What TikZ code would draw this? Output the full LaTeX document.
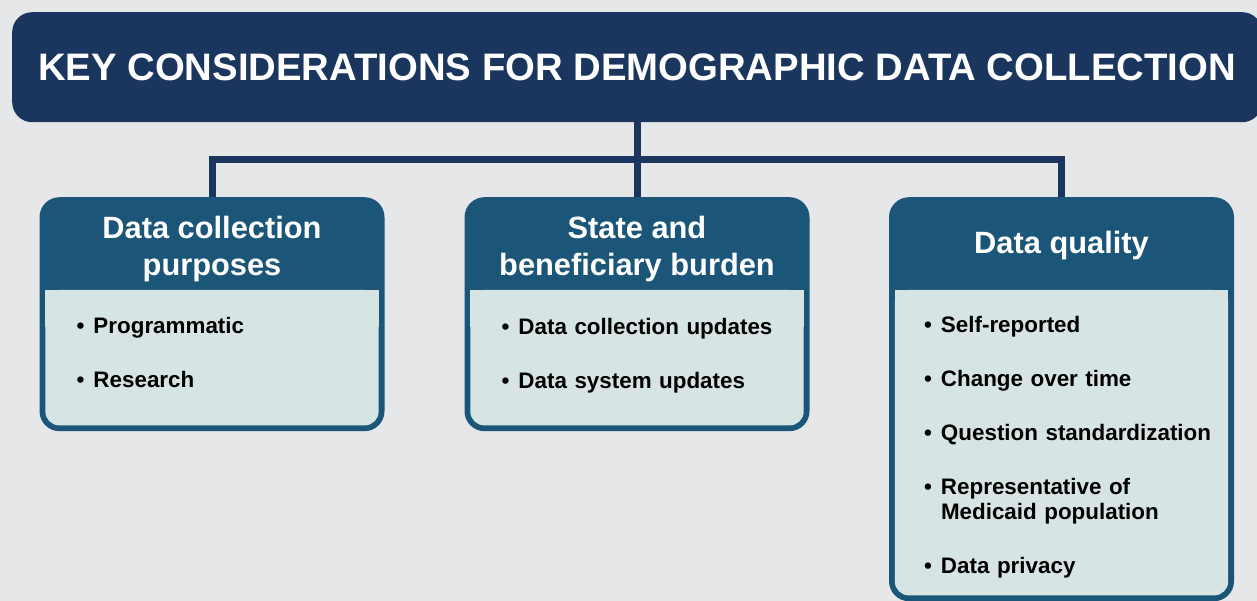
\documentclass[tikz,border=0pt]{standalone}
\usepackage{fontspec}
\setmainfont{Liberation Sans}
\usetikzlibrary{positioning,calc}

\definecolor{navy}{RGB}{27,54,94}
\definecolor{teal}{RGB}{27,86,120}
\definecolor{mist}{RGB}{214,229,227}
\definecolor{paper}{RGB}{230,231,233}

% one bullet line with a hanging indent
\newcommand{\bul}[1]{\par\noindent\hangindent=17pt\hangafter=1\makebox[17pt][l]{\textbullet}#1}

\begin{document}
\begin{tikzpicture}[x=1pt,y=-1pt,
    title/.style={fill=navy, rounded corners=20pt, minimum width=1250pt, minimum height=110pt},
    card/.style={fill=teal, rounded corners=20pt, minimum width=345pt, anchor=north},
    head/.style={text=white, align=center, font=\fontsize{30.8}{37}\selectfont\bfseries},
    body/.style={fill=mist, rounded corners=14pt},
    list/.style={anchor=north west, text width=290pt, inner sep=0pt, align=left,
                 font=\fontsize{22.4}{25}\selectfont\bfseries\setlength{\parskip}{29pt}},
    link/.style={draw=navy, line width=7pt},
  ]
  \fill[paper] (0,0) rectangle (1257,601);
  \useasboundingbox (0,0) rectangle (1257,601);

  % header banner
  \node[title, anchor=north west] (title) at (12,12) {};
  \node[text=white, font=\fontsize{38.3}{44}\selectfont\bfseries] (titletext) at (637,67)
    {KEY CONSIDERATIONS FOR DEMOGRAPHIC DATA COLLECTION};

  % the three cards
  \node[card, minimum height=234pt] (purposes) at (212,197) {};
  \node[card, minimum height=234pt] (burden) at (637,197) {};
  \node[card, minimum height=404pt] (quality) at (1061.5,197) {};

  \foreach \c in {purposes,burden,quality} {
    \fill[body] ($(\c.north west)+(6,93)$) rectangle ($(\c.south east)+(-6,-6)$);
    \fill[mist] ($(\c.north west)+(6,93)$) rectangle ($(\c.north east)+(-6,130)$);
  }

  \node[head] (purposeshead) at ($(purposes.north)+(0,52)$) {Data collection\\purposes};
  \node[head] (burdenhead) at ($(burden.north)+(0,52)$) {State and\\beneficiary burden};
  \node[head] (qualityhead) at ($(quality.north)+(0,49)$) {Data quality};

  \node[list] (purposeslist) at ($(purposes.north west)+(37,111)$)
    {\vspace*{-\parskip}\bul{Programmatic}\bul{Research}};
  \node[list] (burdenlist) at ($(burden.north west)+(37,112)$)
    {\vspace*{-\parskip}\bul{Data collection updates}\bul{Data system updates}};
  \node[list] (qualitylist) at ($(quality.north west)+(35,110)$)
    {\vspace*{-\parskip}\bul{Self-reported}\bul{Change over time}\bul{Question standardization}%
     \bul{Representative of\newline Medicaid population}\bul{Data privacy}};

  % connectors
  \coordinate (bus) at (637,159.5);
  \draw[link] (title.south -| burden.north) -- (burden.north);
  \draw[link] (purposes.north) |- (bus) -| (quality.north);
\end{tikzpicture}
\end{document}
